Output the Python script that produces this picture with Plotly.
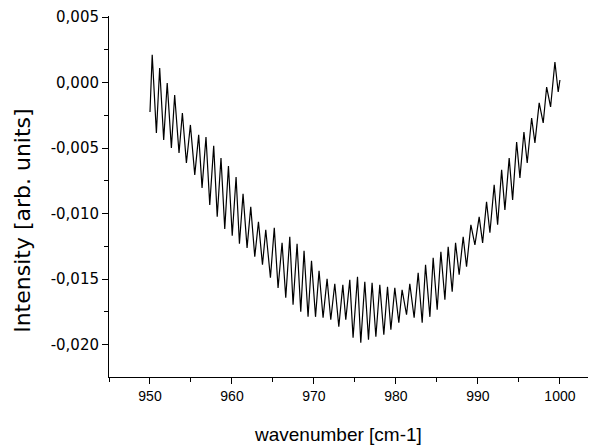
import plotly.graph_objects as go

# wavenumber [cm-1] at successive extrema of the trace
wavenumber = [
    950.00, 950.27, 950.78, 951.18, 951.67, 952.10, 952.61, 953.01, 953.54, 953.95,
    954.44, 954.93, 955.46, 955.94, 956.35, 956.83, 957.29, 957.77, 958.20, 958.66,
    959.12, 959.57, 960.03, 960.50, 960.91, 961.35, 961.84, 962.29, 962.78, 963.23,
    963.72, 964.12, 964.69, 965.16, 965.62, 966.11, 966.56, 967.05, 967.45, 967.94,
    968.39, 968.79, 969.28, 969.70, 970.19, 970.62, 971.11, 971.60, 972.05, 972.54,
    973.03, 973.52, 973.88, 974.37, 974.77, 975.31, 975.71, 976.20, 976.65, 977.09,
    977.55, 978.03, 978.52, 978.97, 979.38, 979.86, 980.35, 980.75, 981.29, 981.69,
    982.22, 982.71, 983.20, 983.61, 984.14, 984.54, 985.03, 985.48, 985.97, 986.37,
    986.86, 987.27, 987.71, 988.20, 988.61, 989.14, 989.63, 990.15, 990.57, 991.05,
    991.46, 991.98, 992.40, 992.89, 993.29, 993.81, 994.23, 994.72, 995.12, 995.61,
    996.01, 996.55, 996.95, 997.47, 997.96, 998.38, 998.86, 999.39, 999.79, 1000.00,
]

# Intensity [arb. units]
intensity = [
    -0.00224, 0.00212, -0.00384, 0.00111, -0.00437, -0.00003, -0.00498, -0.00095, -0.00537, -0.00232,
    -0.00613, -0.00323, -0.00704, -0.00399, -0.00803, -0.00415, -0.00933, -0.00483, -0.01024, -0.00575,
    -0.01116, -0.00636, -0.01169, -0.00720, -0.01230, -0.00849, -0.01261, -0.00948, -0.01329, -0.01062,
    -0.01390, -0.01123, -0.01489, -0.01108, -0.01566, -0.01223, -0.01642, -0.01177, -0.01695, -0.01230,
    -0.01748, -0.01284, -0.01787, -0.01360, -0.01787, -0.01436, -0.01794, -0.01497, -0.01809, -0.01535,
    -0.01863, -0.01543, -0.01809, -0.01505, -0.01947, -0.01482, -0.01985, -0.01520, -0.01962, -0.01527,
    -0.01939, -0.01543, -0.01924, -0.01558, -0.01886, -0.01566, -0.01832, -0.01581, -0.01771, -0.01535,
    -0.01794, -0.01451, -0.01832, -0.01390, -0.01787, -0.01337, -0.01733, -0.01291, -0.01657, -0.01253,
    -0.01596, -0.01223, -0.01466, -0.01177, -0.01405, -0.01085, -0.01238, -0.01024, -0.01223, -0.00910,
    -0.01146, -0.00780, -0.01085, -0.00666, -0.00971, -0.00575, -0.00895, -0.00453, -0.00727, -0.00377,
    -0.00613, -0.00270, -0.00460, -0.00155, -0.00308, -0.00034, -0.00186, 0.00157, -0.00072, 0.00020,
]

ytick_vals = [0.005, 0.0, -0.005, -0.010, -0.015, -0.020]
ytick_text = ["0,005", "0,000", "-0,005", "-0,010", "-0,015", "-0,020"]
xtick_vals = [950, 960, 970, 980, 990, 1000]
xtick_text = ["950", "960", "970", "980", "990", "1000"]

FONT_X = "Liberation Sans, Arial, sans-serif"
FONT_Y = "DejaVu Sans, Verdana, sans-serif"

fig = go.Figure()
fig.add_trace(go.Scatter(
    x=wavenumber, y=intensity, mode="lines",
    line=dict(color="black", width=1.2),
    showlegend=False, hoverinfo="skip",
))

axis_common = dict(
    showline=True, linecolor="black", linewidth=1,
    showgrid=False, zeroline=False, ticks="outside",
    tickcolor="black", tickwidth=1, ticklen=6,
    mirror=False,
)

fig.update_layout(
    width=588, height=438,
    margin=dict(l=101, r=0, t=8, b=69),
    paper_bgcolor="white", plot_bgcolor="white",
    xaxis=dict(
        range=[945, 1004.4],
        tickmode="array", tickvals=xtick_vals, ticktext=xtick_text,
        tickfont=dict(family=FONT_X, size=14, color="black"),
        minor=dict(dtick=5, tick0=945, ticks="outside", ticklen=4, tickcolor="black", showgrid=False),
        **axis_common,
    ),
    yaxis=dict(
        range=[-0.02246, 0.00508],
        tickmode="array", tickvals=ytick_vals, ticktext=ytick_text,
        tickfont=dict(family=FONT_Y, size=15, color="black"),
        minor=dict(dtick=0.0025, tick0=0, ticks="outside", ticklen=4, tickcolor="black", showgrid=False),
        **axis_common,
    ),
    annotations=[
        dict(text="wavenumber [cm-1]", xref="paper", yref="paper",
             x=0.4696, y=-0.1597, xanchor="center", yanchor="middle",
             showarrow=False, font=dict(family=FONT_X, size=19, color="black")),
        dict(text="Intensity [arb. units]", xref="paper", yref="paper",
             x=-0.1766, y=0.4326, xanchor="center", yanchor="middle", textangle=-90,
             showarrow=False, font=dict(family=FONT_Y, size=22, color="black")),
    ],
)

fig.write_html("out.html")
